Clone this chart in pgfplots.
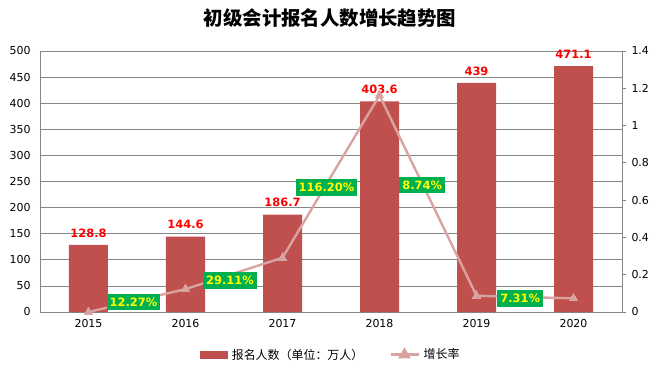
\documentclass[border=0pt]{standalone}
\usepackage{pgfplots}
\pgfplotsset{compat=1.18}
\usepackage{fontspec}
\setmainfont{DejaVu Sans}
\newfontfamily\cjk{Noto Sans CJK SC}
\definecolor{barc}{HTML}{C0504D}
\definecolor{linec}{HTML}{D9A3A1}
\definecolor{gridc}{HTML}{868686}
\definecolor{gbox}{HTML}{00B050}
\definecolor{ytxt}{HTML}{FFFF00}
\begin{document}
\begin{tikzpicture}[x=1bp,y=1bp]
\useasboundingbox (-40bp,-57bp) rectangle (619bp,312bp);
\begin{axis}[
  at={(0,0)}, anchor=south west,
  scale only axis, width=582bp, height=261bp,
  xmin=-0.5, xmax=5.5, ymin=0, ymax=500,
  xtick={0,1,2,3,4,5},
  xticklabels={2015,2016,2017,2018,2019,2020},
  ytick={0,50,...,500},
  ymajorgrids, grid style={gridc, line width=0.8pt},
  axis line style={gridc, line width=0.8pt},
  axis x line*=bottom, axis y line*=left,
  major tick length=0pt,
  tick label style={font=\fontsize{11}{13}\selectfont, text=black},
  /pgf/number format/assume math mode=true,
  xticklabel style={yshift=-4bp},
  yticklabel style={xshift=-6bp},
  clip=false,
]
\addplot[ybar, bar width=39bp, fill=barc, draw=none,
  nodes near coords, point meta=explicit symbolic,
  every node near coord/.append style={font=\fontsize{11.5}{13}\selectfont\bfseries, text=red, yshift=4bp}]
  coordinates {(0,128.8)[128.8] (1,144.6)[144.6] (2,186.7)[186.7] (3,403.6)[403.6] (4,439)[439] (5,471.1)[471.1]};
\end{axis}
\begin{axis}[
  at={(0,0)}, anchor=south west,
  scale only axis, width=582bp, height=261bp,
  xmin=-0.5, xmax=5.5, ymin=0, ymax=1.4,
  ytick={0,0.2,...,1.4},
  yticklabels={0,0.2,0.4,0.6,0.8,1,1.2,1.4},
  axis x line=none, axis y line*=right,
  axis line style={gridc, line width=0.8pt},
  y tick style={gridc, line width=0.8pt},
  major tick length=4bp, tick align=outside,
  tick label style={font=\fontsize{11}{13}\selectfont, text=black},
  yticklabel style={xshift=2bp},
  clip=false,
  legend style={at={(0.5,-0.125)}, anchor=north, draw=none, legend columns=2,
    font=\cjk\fontsize{12}{14}\selectfont, column sep=2bp,
    /tikz/every even column/.append style={column sep=24bp}},
  legend cell align=left,
]
\addlegendimage{legend image code/.code={\fill[barc] (0bp,-3.5bp) rectangle (27bp,3.5bp);}}
\addlegendentry{报名人数（单位：万人）}
\addplot[linec, line width=2.4pt, mark=triangle*, mark size=5bp, mark options={fill=linec, draw=linec, line width=0pt},
  legend image code/.code={\draw[linec, line width=2.4pt] (0bp,0bp) -- (28bp,0bp); \fill[linec] (14bp,0bp) +(90:5bp) -- +(210:5bp) -- +(330:5bp) -- cycle;}]
  coordinates {(0,0) (1,0.1227) (2,0.2911) (3,1.162) (4,0.0874) (5,0.0731)};
\addlegendentry{增长率}
\tikzset{glab/.style={fill=gbox, text=ytxt, font=\fontsize{11.5}{13}\selectfont\bfseries, inner xsep=3bp, inner ysep=4bp}}
\node[glab] at (axis cs:0.464,0.054) {12.27\%};
\node[glab] at (axis cs:1.459,0.169) {29.11\%};
\node[glab] at (axis cs:2.454,0.668) {116.20\%};
\node[glab] at (axis cs:3.44,0.681) {8.74\%};
\node[glab] at (axis cs:4.45,0.072) {7.31\%};
\end{axis}
\node[font=\cjk\fontsize{19.5}{22}\selectfont\bfseries, anchor=center] at (290bp,294bp) {初级会计报名人数增长趋势图};
\end{tikzpicture}
\end{document}
